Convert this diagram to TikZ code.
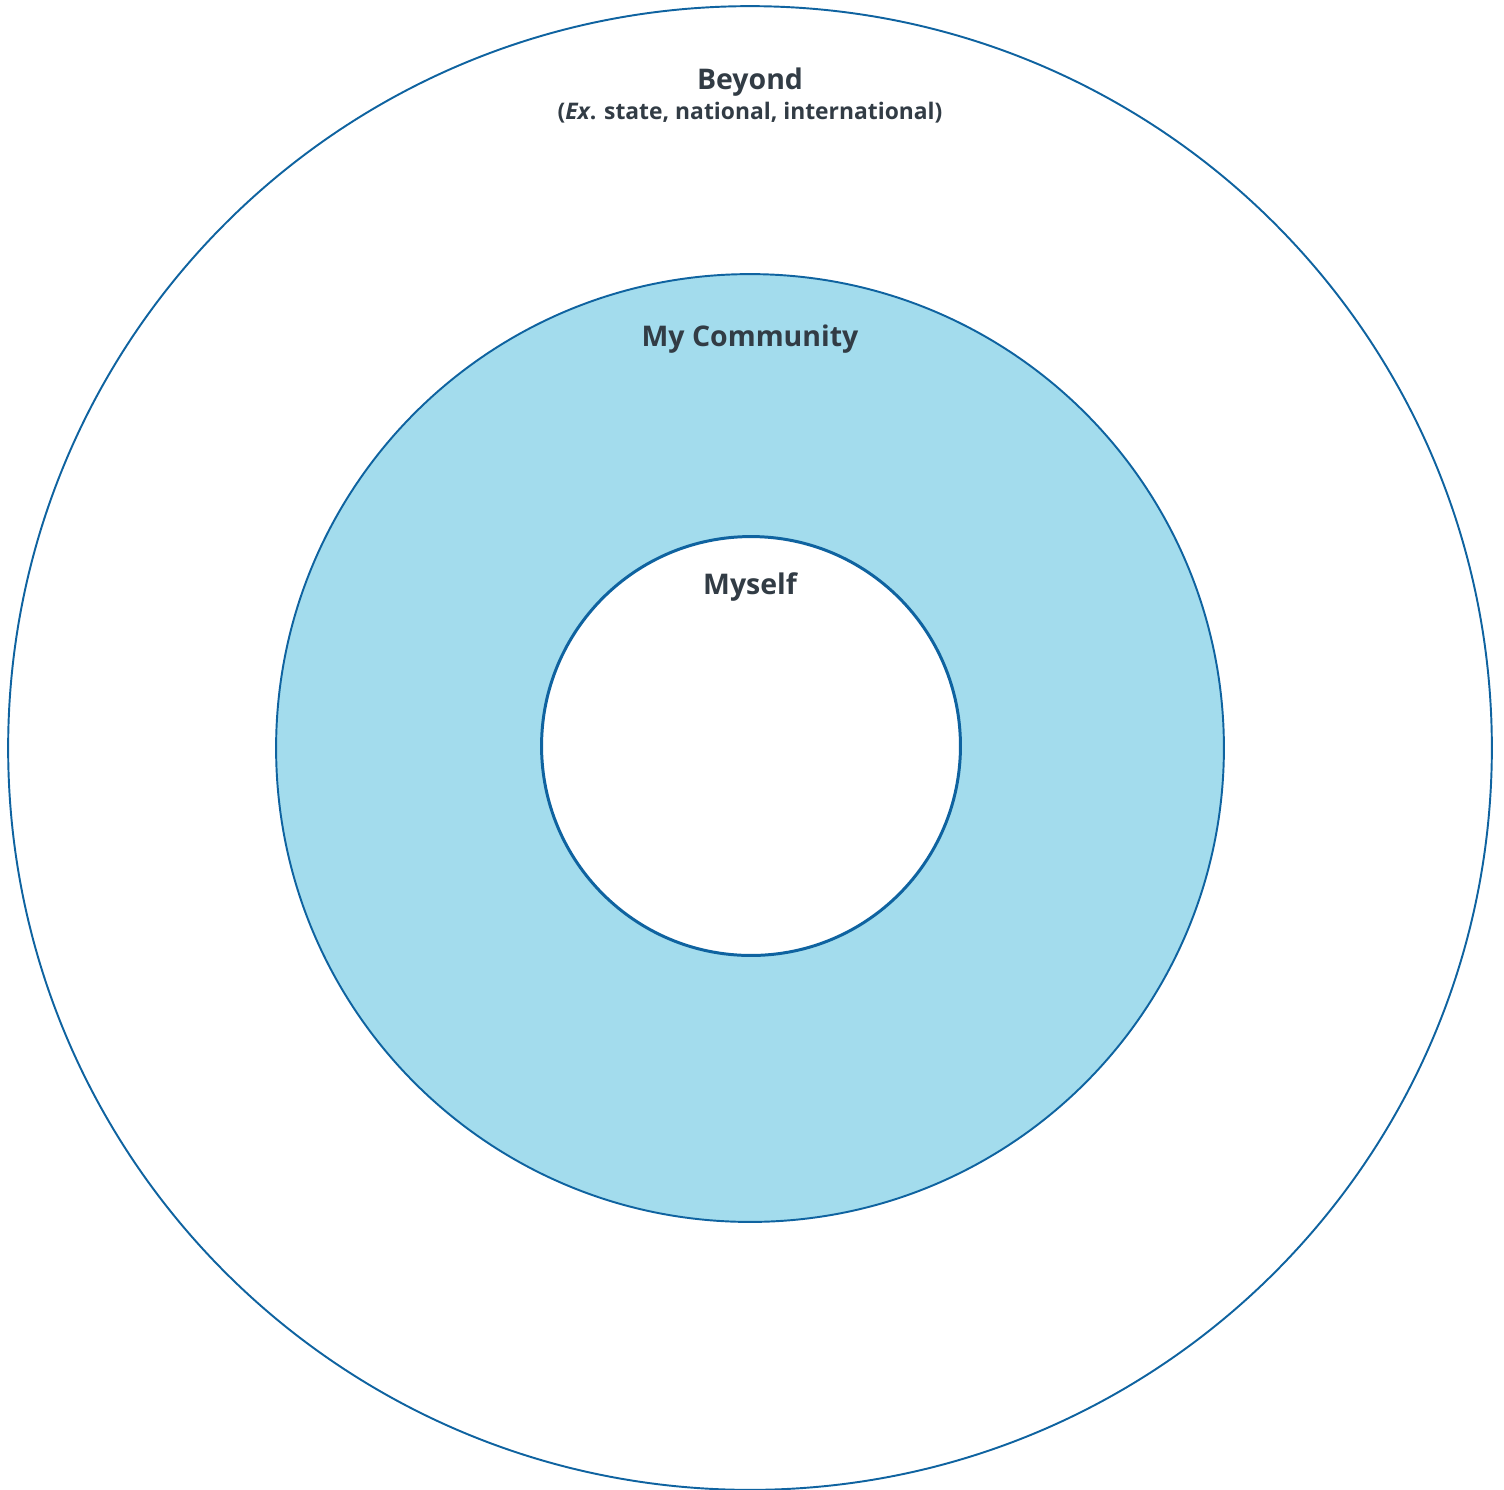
\documentclass[tikz,border=0pt]{standalone}
\usepackage{fontspec}
\setmainfont{Open Sans}
\usetikzlibrary{shapes.geometric}
\definecolor{ringline}{HTML}{0F63A0}
\definecolor{ringfill}{HTML}{A3DCED}
\definecolor{labeltext}{HTML}{323C45}
\tikzstyle{ring} = [circle, draw=ringline, line width=1.1pt, inner sep=0pt]
\tikzstyle{title} = [text=labeltext, font=\bfseries\fontsize{16.2}{19}\selectfont]
\tikzstyle{subtitle} = [text=labeltext, font=\bfseries\fontsize{13}{15}\selectfont]

\begin{document}
\begin{tikzpicture}[x=0.02cm, y=-0.02cm]
    \useasboundingbox (0,0) rectangle (1504,1489);
    \node [ring, minimum size=29.68cm] at (750,748) (beyond) {};
    \node [ring, fill=ringfill, minimum size=18.96cm] at (750,748) (community) {};
    \node [ring, fill=white, line width=1.7pt, minimum size=8.38cm] at (751,746) (myself) {};
    \node [title] at (750,82) (beyondlabel) {Beyond};
    \node [subtitle] at (750,113) (beyondsub) {(\textit{Ex}. state, national, international)};
    \node [title] at (750,339) (communitylabel) {My Community};
    \node [title] at (750,587) (myselflabel) {Myself};
\end{tikzpicture}
\end{document}
